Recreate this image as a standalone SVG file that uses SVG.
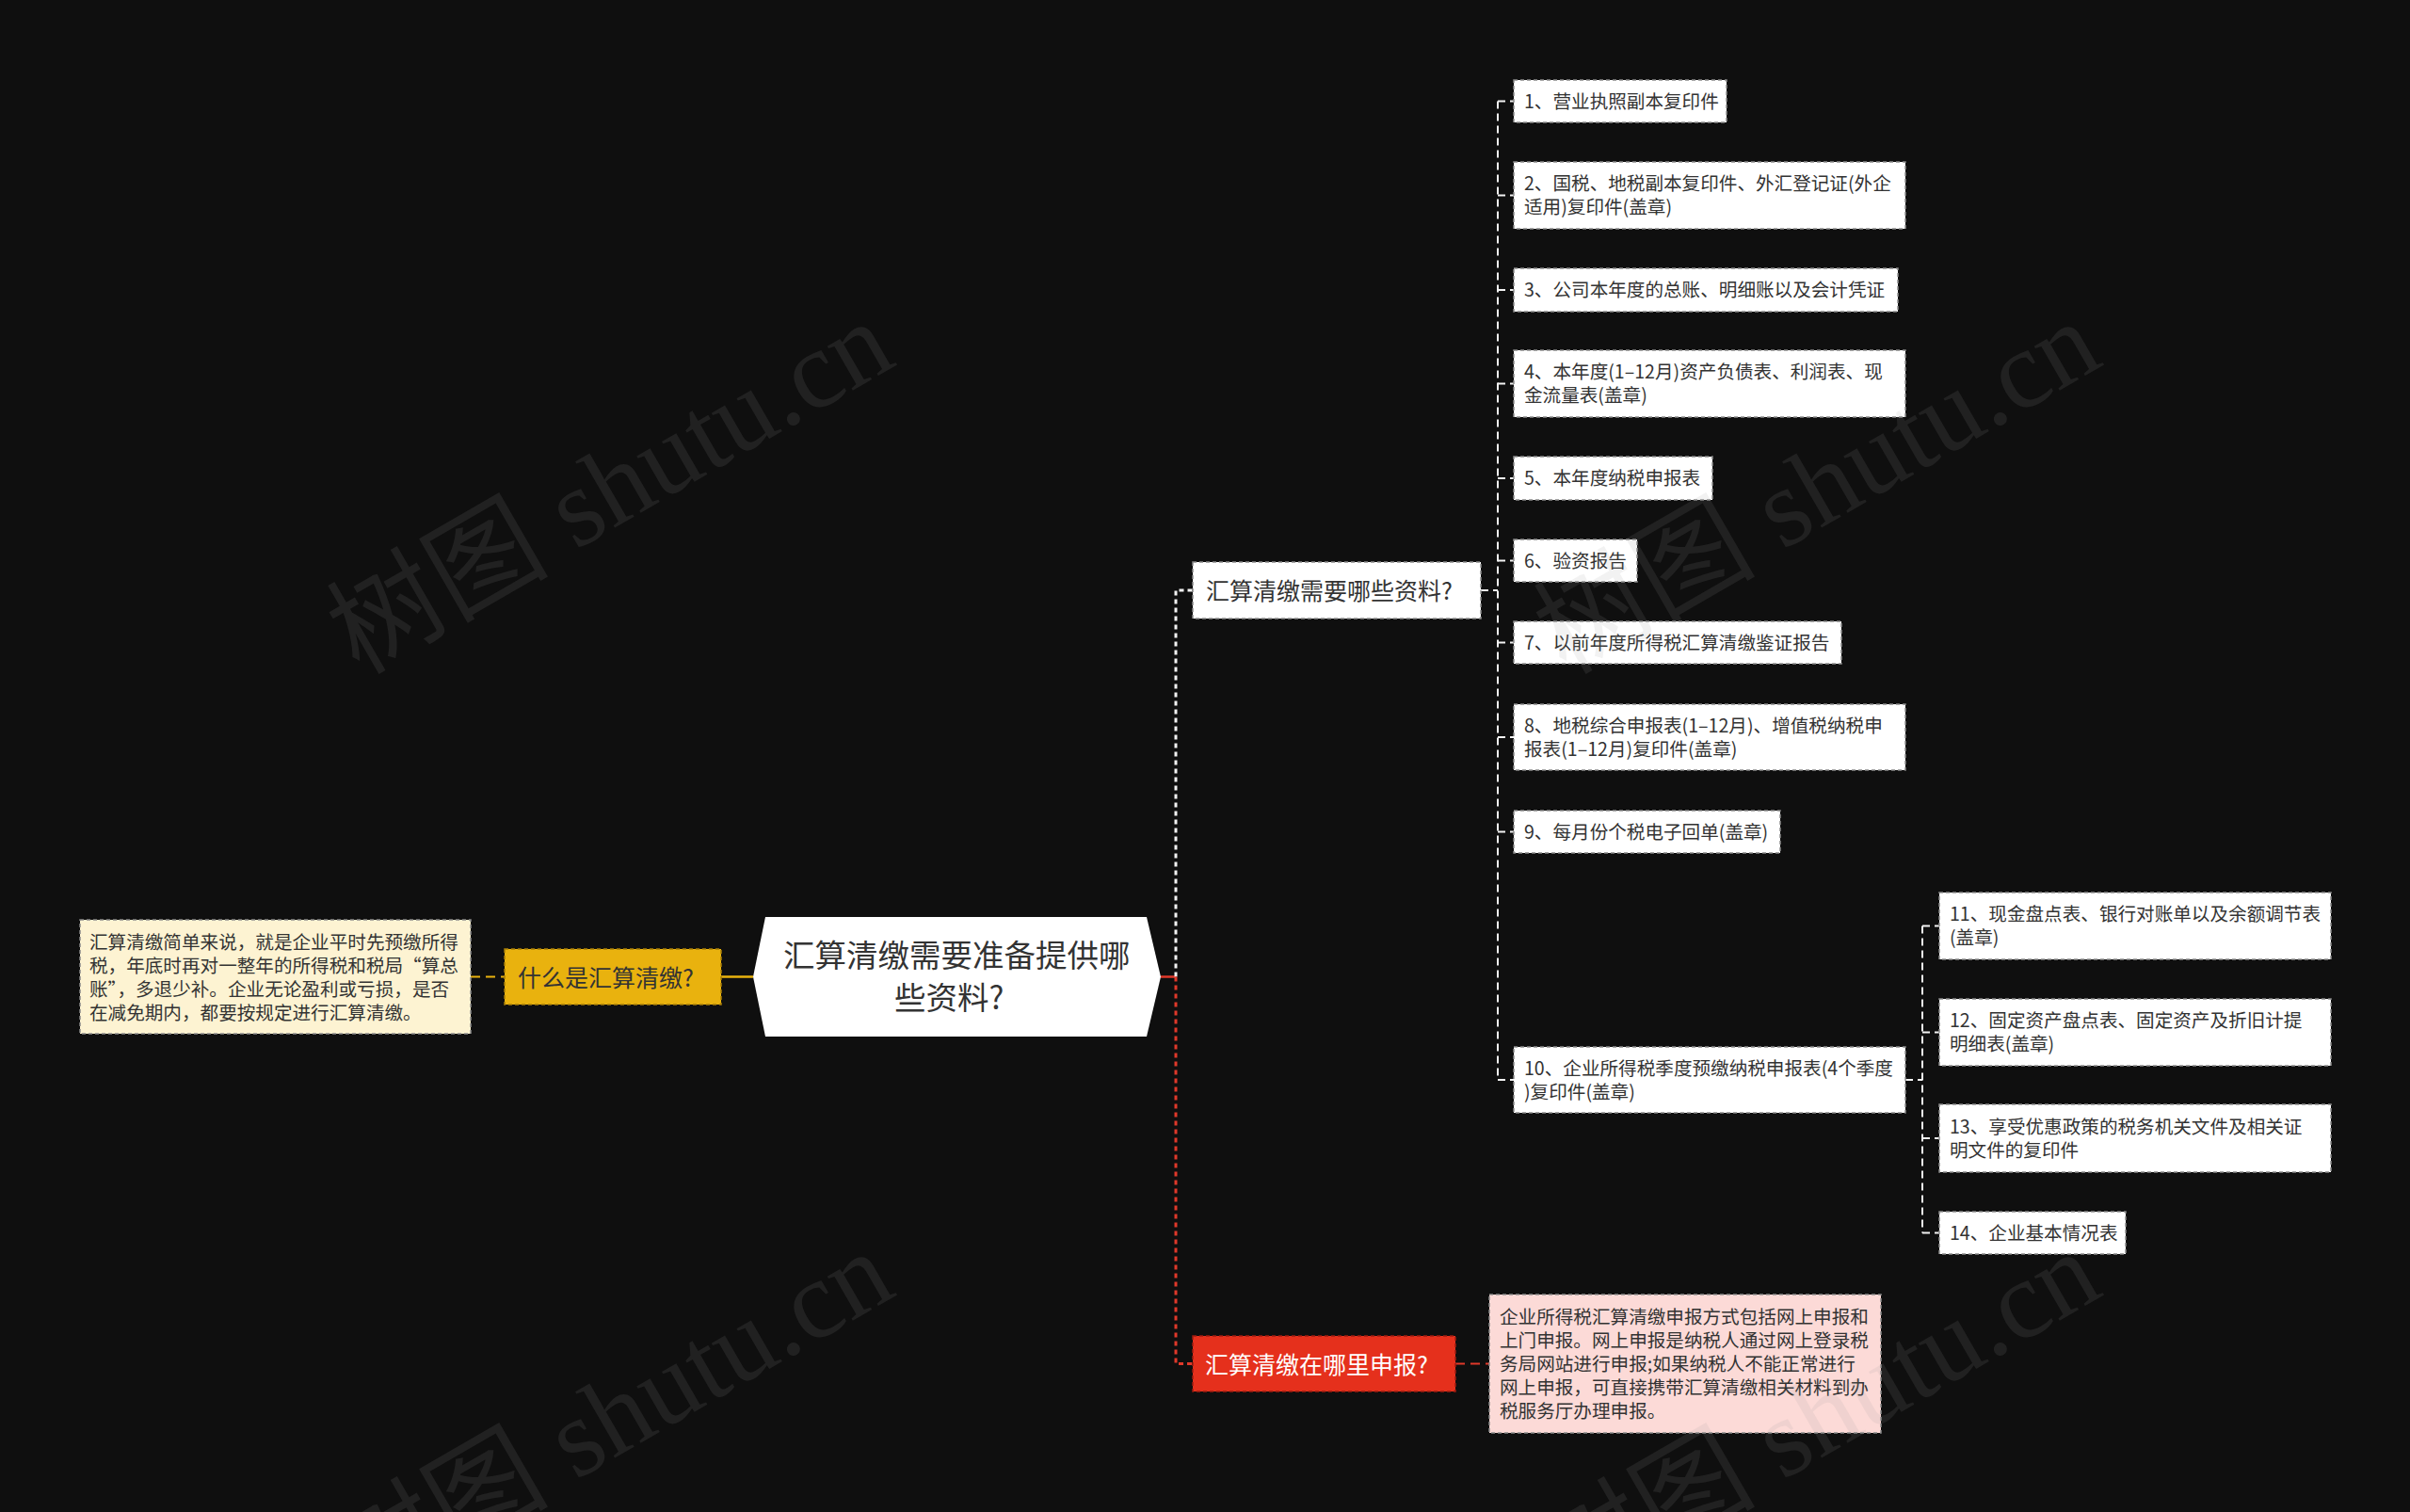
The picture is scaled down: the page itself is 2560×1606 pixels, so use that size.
<svg xmlns="http://www.w3.org/2000/svg" width="2560" height="1606" viewBox="0 0 2560 1606">
<style>
text{font-family:"Noto Sans CJK SC","Noto Sans",sans-serif}
.t2{font-size:19.6px;fill:#333}
.t1{font-size:25px}
.box{fill:#fff;stroke:#8c8c8c;stroke-width:1.5;stroke-dasharray:4 3}
.cw{fill:none;stroke:#f2f2f2;stroke-width:2;stroke-dasharray:8 5}
.cw2{fill:none;stroke:#f2f2f2;stroke-width:3;stroke-dasharray:5 4}
.cr{fill:none;stroke:#e0392a;stroke-width:3;stroke-dasharray:5 4}
.cr2{fill:none;stroke:#e0392a;stroke-width:2;stroke-dasharray:10 6}
.cy{fill:none;stroke:#e9b20e;stroke-width:2;stroke-dasharray:10 6}
.wm{font-family:"Liberation Serif","Noto Sans CJK SC",serif;font-size:118px;fill:#9a9a9a;fill-opacity:0.13}
</style>
<rect x="0" y="0" width="2560" height="1606" fill="#0f0f0f"/>

<g id="connectors">
  <line class="cy" x1="500" y1="1037.5" x2="536" y2="1037.5"/>
  <line x1="766" y1="1037.5" x2="800" y2="1037.5" stroke="#e9b20e" stroke-width="2.5"/>
  <line x1="1233" y1="1037.5" x2="1249" y2="1037.5" stroke="#e0392a" stroke-width="2.5"/>
  <path class="cw2" d="M1249 1037.5 V627 H1267"/>
  <path class="cr" d="M1249 1037.5 V1448.5 H1267"/>
  <line class="cr2" x1="1546" y1="1448.5" x2="1582" y2="1448.5"/>
  <line class="cw" x1="1573" y1="627" x2="1591" y2="627"/>
  <line class="cw" x1="1591" y1="107.5" x2="1591" y2="1147"/>
  <path class="cw" d="M1591 107.5H1608M1591 207.5H1608M1591 308H1608M1591 407.5H1608M1591 508H1608M1591 595.5H1608M1591 682.5H1608M1591 783H1608M1591 883.5H1608M1591 1147H1608"/>
  <line class="cw" x1="2024" y1="1147" x2="2042" y2="1147"/>
  <line class="cw" x1="2042" y1="983.5" x2="2042" y2="1309.5"/>
  <path class="cw" d="M2042 983.5H2060M2042 1096.5H2060M2042 1209H2060M2042 1309.5H2060"/>
</g>

<g id="root">
  <polygon points="813,974 1218,974 1233,1037.5 1218,1101 813,1101 800,1037.5" fill="#fff"/>
  <text x="832" y="1026.5" font-size="33.5" fill="#333">汇算清缴需要准备提供哪</text>
  <text x="950" y="1071.5" font-size="33.5" fill="#333">些资料?</text>
</g>

<g id="n-what">
  <rect x="536" y="1008" width="230" height="59" fill="#e9b20e" stroke="#a87f08" stroke-width="1.5" stroke-dasharray="4 3"/>
  <text class="t1" x="550" y="1047.5" fill="#333">什么是汇算清缴?</text>
</g>
<g id="n-what-desc">
  <rect x="85" y="977" width="415" height="121" fill="#fdf3d2" stroke="#8c8c8c" stroke-width="1.5" stroke-dasharray="4 3"/>
  <text class="t2" x="95" y="1007.7">汇算清缴简单来说，就是企业平时先预缴所得</text>
  <text class="t2" x="95" y="1032.7">税，年底时再对一整年的所得税和税局“算总</text>
  <text class="t2" x="95" y="1057.7">账”，多退少补。企业无论盈利或亏损，是否</text>
  <text class="t2" x="95" y="1082.7">在减免期内，都要按规定进行汇算清缴。</text>
</g>

<g id="n-materials">
  <rect class="box" x="1267" y="597" width="306" height="60"/>
  <text class="t1" x="1281" y="636.5" fill="#333">汇算清缴需要哪些资料?</text>
</g>

<g id="n-where">
  <rect x="1267" y="1419" width="279" height="59" fill="#e5301c" stroke="#9e1d10" stroke-width="1.5" stroke-dasharray="4 3"/>
  <text class="t1" x="1280" y="1458.5" fill="#fff">汇算清缴在哪里申报?</text>
</g>
<g id="n-where-desc">
  <rect x="1582" y="1375" width="416" height="147" fill="#fcdad7" stroke="#8c8c8c" stroke-width="1.5" stroke-dasharray="4 3"/>
  <text class="t2" x="1593" y="1405.7">企业所得税汇算清缴申报方式包括网上申报和</text>
  <text class="t2" x="1593" y="1430.7">上门申报。网上申报是纳税人通过网上登录税</text>
  <text class="t2" x="1593" y="1455.7">务局网站进行申报;如果纳税人不能正常进行</text>
  <text class="t2" x="1593" y="1480.7">网上申报，可直接携带汇算清缴相关材料到办</text>
  <text class="t2" x="1593" y="1505.7">税服务厅办理申报。</text>
</g>

<g id="m1"><rect class="box" x="1608" y="85" width="226" height="45"/><text class="t2" x="1619" y="114.8">1、营业执照副本复印件</text></g>
<g id="m2"><rect class="box" x="1608" y="172" width="416" height="71"/><text class="t2" x="1619" y="202.3">2、国税、地税副本复印件、外汇登记证(外企</text><text class="t2" x="1619" y="227.3">适用)复印件(盖章)</text></g>
<g id="m3"><rect class="box" x="1608" y="285" width="408" height="46"/><text class="t2" x="1619" y="315.3">3、公司本年度的总账、明细账以及会计凭证</text></g>
<g id="m4"><rect class="box" x="1608" y="372" width="416" height="71"/><text class="t2" x="1619" y="402.3">4、本年度(1–12月)资产负债表、利润表、现</text><text class="t2" x="1619" y="427.3">金流量表(盖章)</text></g>
<g id="m5"><rect class="box" x="1608" y="485" width="211" height="46"/><text class="t2" x="1619" y="515.3">5、本年度纳税申报表</text></g>
<g id="m6"><rect class="box" x="1608" y="573" width="131" height="45"/><text class="t2" x="1619" y="602.8">6、验资报告</text></g>
<g id="m7"><rect class="box" x="1608" y="660" width="348" height="45"/><text class="t2" x="1619" y="689.8">7、以前年度所得税汇算清缴鉴证报告</text></g>
<g id="m8"><rect class="box" x="1608" y="748" width="416" height="70"/><text class="t2" x="1619" y="777.8">8、地税综合申报表(1–12月)、增值税纳税申</text><text class="t2" x="1619" y="802.8">报表(1–12月)复印件(盖章)</text></g>
<g id="m9"><rect class="box" x="1608" y="861" width="283" height="45"/><text class="t2" x="1619" y="890.8">9、每月份个税电子回单(盖章)</text></g>
<g id="m10"><rect class="box" x="1608" y="1112" width="416" height="70"/><text class="t2" x="1619" y="1141.8">10、企业所得税季度预缴纳税申报表(4个季度</text><text class="t2" x="1619" y="1166.8">)复印件(盖章)</text></g>

<g id="m11"><rect class="box" x="2060" y="948" width="416" height="71"/><text class="t2" x="2071" y="978.3">11、现金盘点表、银行对账单以及余额调节表</text><text class="t2" x="2071" y="1003.3">(盖章)</text></g>
<g id="m12"><rect class="box" x="2060" y="1061" width="416" height="71"/><text class="t2" x="2071" y="1091.3">12、固定资产盘点表、固定资产及折旧计提</text><text class="t2" x="2071" y="1116.3">明细表(盖章)</text></g>
<g id="m13"><rect class="box" x="2060" y="1173" width="416" height="72"/><text class="t2" x="2071" y="1203.8">13、享受优惠政策的税务机关文件及相关证</text><text class="t2" x="2071" y="1228.8">明文件的复印件</text></g>
<g id="m14"><rect class="box" x="2060" y="1287" width="198" height="45"/><text class="t2" x="2071" y="1316.8">14、企业基本情况表</text></g>

<g id="watermarks">
  <text class="wm" x="668" y="552" text-anchor="middle" transform="rotate(-30 668 552)">树图 shutu.cn</text>
  <text class="wm" x="1950" y="552" text-anchor="middle" transform="rotate(-30 1950 552)">树图 shutu.cn</text>
  <text class="wm" x="668" y="1540" text-anchor="middle" transform="rotate(-30 668 1540)">树图 shutu.cn</text>
  <text class="wm" x="1950" y="1540" text-anchor="middle" transform="rotate(-30 1950 1540)">树图 shutu.cn</text>
</g>
</svg>
